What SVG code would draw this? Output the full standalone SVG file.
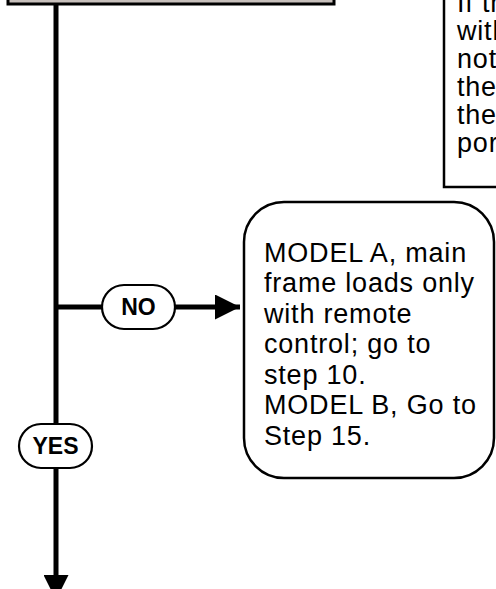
<svg xmlns="http://www.w3.org/2000/svg" width="496" height="589" viewBox="0 0 496 589">
<style>
.box{fill:#ffffff;stroke:#000;stroke-width:2.5}
.pill{fill:#ffffff;stroke:#000;stroke-width:2.2}
.t{font-family:"Liberation Sans",Arial,sans-serif;font-size:27px;letter-spacing:0.8px;fill:#000}
.lb{font-family:"Liberation Sans",Arial,sans-serif;font-size:23px;font-weight:bold;fill:#000;text-anchor:middle}
.ln{stroke:#000;stroke-width:5;fill:none}
</style>
<defs>
<marker id="ah" viewBox="0 0 10 10" refX="10" refY="5" markerWidth="5.4" markerHeight="5" markerUnits="strokeWidth" orient="auto">
<path d="M0,0 L10,5 L0,10 Z" fill="#000"/>
</marker>
</defs>
<g id="connectors">
<path class="ln" d="M56,4 V600" marker-end="url(#ah)"/>
<path class="ln" d="M56,307 H240" marker-end="url(#ah)"/>
</g>
<g id="top-box">
<rect x="8" y="-30" width="326" height="34" fill="#c8c0bc" stroke="#000" stroke-width="3"/>
</g>
<g id="note-box">
<rect class="box" x="444" y="-20" width="80" height="207"/>
<text class="t" x="457" y="12">If th</text>
<text class="t" x="457" y="40">with</text>
<text class="t" x="457" y="68">not</text>
<text class="t" x="457" y="96">the</text>
<text class="t" x="457" y="124">the</text>
<text class="t" x="457" y="152">por</text>
</g>
<g id="no-label">
<rect class="pill" x="102" y="285" width="73" height="44" rx="22"/>
<text class="lb" x="138.5" y="315">NO</text>
</g>
<g id="yes-label">
<rect class="pill" x="19" y="424" width="73" height="44" rx="22"/>
<text class="lb" x="55.5" y="454">YES</text>
</g>
<g id="result-box">
<rect class="box" x="244" y="202" width="250" height="276" rx="40"/>
<text class="t" x="264" y="262">MODEL A, main</text>
<text class="t" x="264" y="292">frame loads only</text>
<text class="t" x="264" y="323">with remote</text>
<text class="t" x="264" y="353">control; go to</text>
<text class="t" x="264" y="384">step 10.</text>
<text class="t" x="264" y="414">MODEL B, Go to</text>
<text class="t" x="264" y="445">Step 15.</text>
</g>
</svg>
